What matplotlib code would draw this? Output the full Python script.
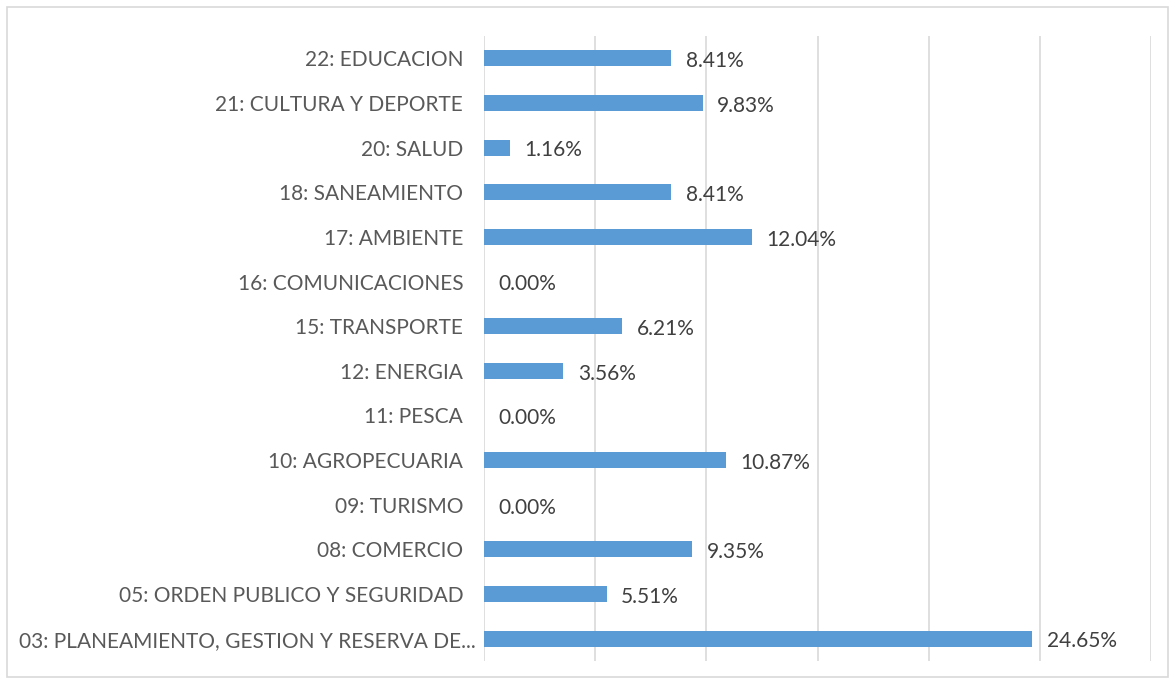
import matplotlib
matplotlib.use('Agg')
import matplotlib.pyplot as plt
import matplotlib.transforms as mtransforms
from matplotlib.patches import Rectangle
from matplotlib.ticker import MultipleLocator

# categories listed bottom -> top
categories = [
    '03: PLANEAMIENTO, GESTION Y RESERVA DE...',
    '05: ORDEN PUBLICO Y SEGURIDAD',
    '08: COMERCIO',
    '09: TURISMO',
    '10: AGROPECUARIA',
    '11: PESCA',
    '12: ENERGIA',
    '15: TRANSPORTE',
    '16: COMUNICACIONES',
    '17: AMBIENTE',
    '18: SANEAMIENTO',
    '20: SALUD',
    '21: CULTURA Y DEPORTE',
    '22: EDUCACION',
]
values = [24.65, 5.51, 9.35, 0.00, 10.87, 0.00, 3.56, 6.21, 0.00, 12.04, 8.41, 1.16, 9.83, 8.41]

plt.rcParams['font.family'] = ['Lato', 'DejaVu Sans']

fig = plt.figure(figsize=(11.75, 6.84), dpi=100)
ax = fig.add_axes([484 / 1175, 1 - 661 / 684, (1151 - 484) / 1175, (661 - 36) / 684])

y = list(range(len(categories)))
ax.barh(y, values, height=0.36, color='#5b9bd5', zorder=3)

for yi, v in zip(y, values):
    ax.annotate('{:.2f}%'.format(v), (v, yi), xytext=(10.5, -2), textcoords='offset points',
                ha='left', va='center', fontsize=15, color='#404040')

ax.set_xlim(0, 30)
ax.set_ylim(-0.5, len(categories) - 0.5)
ax.xaxis.set_major_locator(MultipleLocator(5))
ax.grid(axis='x', color='#d9d9d9', linewidth=1.2, zorder=0)
ax.set_yticks(y)
ax.set_yticklabels(categories, fontsize=15, color='#595959')
ax.tick_params(axis='y', length=0, pad=15)
ax.tick_params(axis='x', length=0, labelbottom=False)
for s in ax.spines.values():
    s.set_visible(False)

# truncated label sits a bit closer to the axis, like Excel draws it
long_lbl = ax.get_yticklabels()[0]
long_lbl.set_transform(long_lbl.get_transform() +
                       mtransforms.ScaledTranslation(13 / 100, 0, fig.dpi_scale_trans))

fig.patches.append(Rectangle((7 / 1175, 1 - 677 / 684), 1161 / 1175, 670 / 684,
                             transform=fig.transFigure, fill=False,
                             edgecolor='#d9d9d9', linewidth=1.2))

fig.savefig('out.png', dpi=100)
